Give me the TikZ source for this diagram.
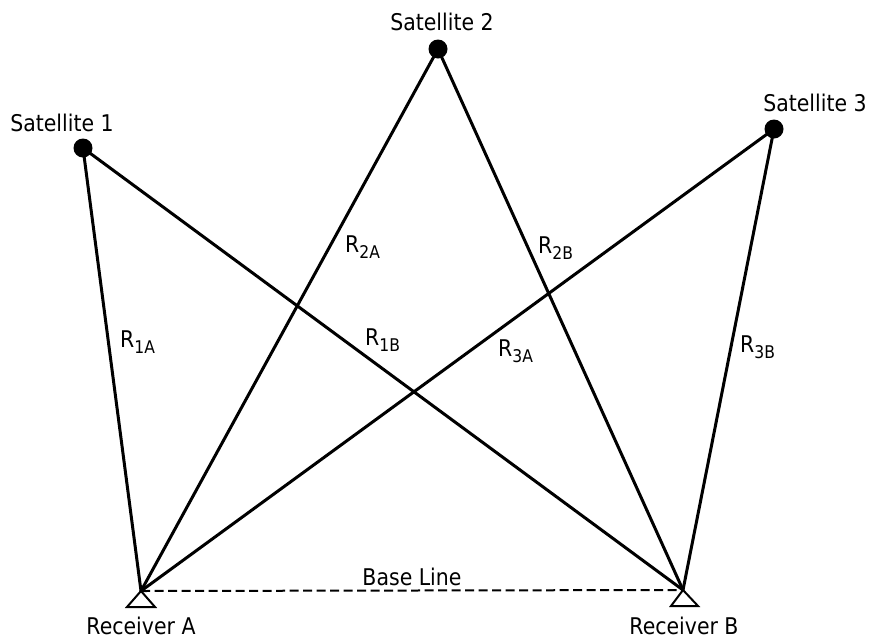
\documentclass[tikz,border=0pt]{standalone}
\usepackage{fontspec}
\setmainfont{DejaVu Sans}[FakeStretch=0.89]
\newcommand{\rlab}[1]{R\raisebox{-0.3em}{\fontsize{17.5}{17.5}\selectfont #1}}
\begin{document}
\begin{tikzpicture}[x=1pt,y=-1pt,
  lbl/.style={inner sep=0pt, anchor=base, font=\fontsize{23}{23}\selectfont},
  rl/.style={inner sep=0pt, anchor=base west, font=\fontsize{23}{23}\selectfont},
  ray/.style={line width=3pt, line cap=round},
  sat/.style={circle, fill=black, inner sep=0pt, minimum size=19pt},
  rcv/.style={line width=2pt, line join=miter}]
\useasboundingbox (0,0) rectangle (870,638);
% satellites
\node[sat] (s1) at (83,148) {};
\node[sat] (s2) at (438,49) {};
\node[sat] (s3) at (774,129) {};
% receivers
\coordinate (ra) at (141,591);
\coordinate (rb) at (683,590);
% rays
\draw[ray] (s1.center) -- (ra);
\draw[ray] (s1.center) -- (rb);
\draw[ray] (s2.center) -- (ra);
\draw[ray] (s2.center) -- (rb);
\draw[ray] (s3.center) -- (ra);
\draw[ray] (s3.center) -- (rb);
% base line
\draw[line width=2pt, dash pattern=on 9pt off 4.5pt] (ra) -- (rb);
% receiver triangles
\draw[rcv] (ra) -- ++(-14,16) -- ++(28,0) -- cycle;
\draw[rcv] (rb) -- ++(-12,16) -- ++(27,0) -- cycle;
% labels
\node[lbl] (t1) at (62,131) {Satellite 1};
\node[lbl] (t2) at (442,30) {Satellite 2};
\node[lbl] (t3) at (815,111) {Satellite 3};
\node[lbl] (ta) at (141,634) {Receiver A};
\node[lbl] (tb) at (684,634) {Receiver B};
\node[lbl] (bl) at (412,585) {Base Line};
\node[rl] (r1a) at (120,347) {\rlab{1A}};
\node[rl] (r1b) at (365,345) {\rlab{1B}};
\node[rl] (r2a) at (345,252) {\rlab{2A}};
\node[rl] (r2b) at (538,253) {\rlab{2B}};
\node[rl] (r3a) at (498,356) {\rlab{3A}};
\node[rl] (r3b) at (740,352) {\rlab{3B}};
\end{tikzpicture}
\end{document}
